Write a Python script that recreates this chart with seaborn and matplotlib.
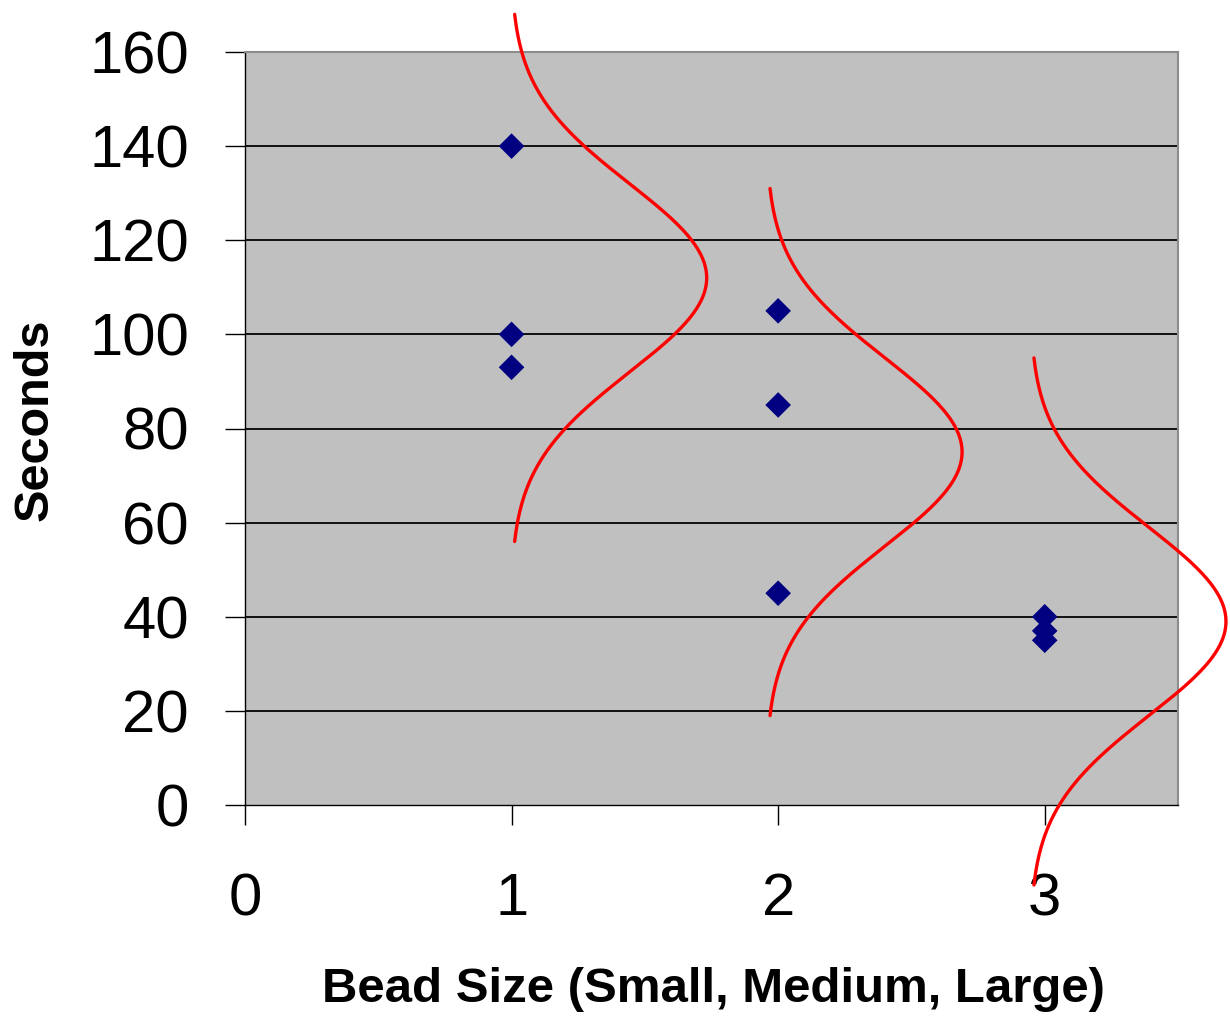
import numpy as np
import pandas as pd
import matplotlib
matplotlib.use("Agg")
import matplotlib.pyplot as plt
import seaborn as sns

# ---- data ----
bead_size = [1, 1, 1, 2, 2, 2, 3, 3, 3]
seconds = [140, 100, 93, 105, 85, 45, 40, 37, 35]

# fitted normal curves drawn beside each group
curve_centers = [112, 75, 39]           # seconds at curve peak
curve_sd = [20, 20, 20]                 # spread of each curve (seconds)
curve_halfspan = [56, 56, 56]           # curve drawn from center-halfspan to center+halfspan
curve_baselines = [0.997, 1.955, 2.945] # x position of the curve's baseline
curve_peak_widths = [0.735, 0.735, 0.735]

x_ticks = [0, 1, 2, 3]
y_ticks = [0, 20, 40, 60, 80, 100, 120, 140, 160]
x_label = "Bead Size (Small, Medium, Large)"
y_label = "Seconds"

sns.set_theme(style="white")
plt.rcParams["font.family"] = ["Liberation Sans", "DejaVu Sans"]

W, H = 1230, 1026
fig = plt.figure(figsize=(W / 100, H / 100), dpi=100)
ax = fig.add_axes([245 / W, 1 - 805 / H, (1178 - 245) / W, (805 - 52) / H])
ax.set_facecolor("#C0C0C0")

# curves
rows = []
for i in range(len(curve_centers)):
    c, sd, hs = curve_centers[i], curve_sd[i], curve_halfspan[i]
    yy = np.linspace(c - hs, c + hs, 300)
    xx = curve_baselines[i] + curve_peak_widths[i] * np.exp(-0.5 * ((yy - c) / sd) ** 2)
    rows.append(pd.DataFrame({"x": xx, "y": yy, "g": i}))
curves = pd.concat(rows, ignore_index=True)
sns.lineplot(data=curves, x="x", y="y", units="g", estimator=None, sort=False,
             color="#FF0000", linewidth=2.4, ax=ax, zorder=4)
for ln in ax.lines:
    ln.set_clip_on(False)

# points
pts = pd.DataFrame({"bead": bead_size, "sec": seconds})
sns.scatterplot(data=pts, x="bead", y="sec", marker="D", s=170, color="#000080",
                edgecolor="none", linewidth=0, ax=ax, zorder=5)

ax.set_xlim(0, 3.5)
ax.set_ylim(0, 160)
ax.set_xticks(x_ticks)
ax.set_yticks(y_ticks)
ax.set_xticklabels([str(t) for t in x_ticks])
ax.set_yticklabels([str(t) for t in y_ticks])
ax.tick_params(axis="both", which="major", direction="out", length=14.4, width=1.0,
               color="black", labelsize=43, labelcolor="black")
ax.tick_params(axis="y", pad=26, left=True)
ax.tick_params(axis="x", pad=34, bottom=True)

ax.yaxis.grid(True, color="#111111", linewidth=1.4)
ax.xaxis.grid(False)
ax.set_axisbelow(True)
gl = ax.get_ygridlines()
gl[0].set_visible(False)
gl[-1].set_visible(False)

for s in ["left", "bottom"]:
    ax.spines[s].set_color("black")
    ax.spines[s].set_linewidth(1.0)
for s in ["top", "right"]:
    ax.spines[s].set_color("#8C8C8C")
    ax.spines[s].set_linewidth(1.5)
    ax.spines[s].set_visible(True)

ax.set_xlabel("")
ax.set_ylabel("")
fig.text(714 / W, 1 - 990 / H, x_label, ha="center", va="center",
         fontsize=35.4, fontweight="bold", color="black")
fig.text(35 / W, 1 - 420 / H, y_label, ha="center", va="center", rotation=90,
         fontsize=35, fontweight="bold", color="black")

fig.savefig("out.png", dpi=100, facecolor="white")
